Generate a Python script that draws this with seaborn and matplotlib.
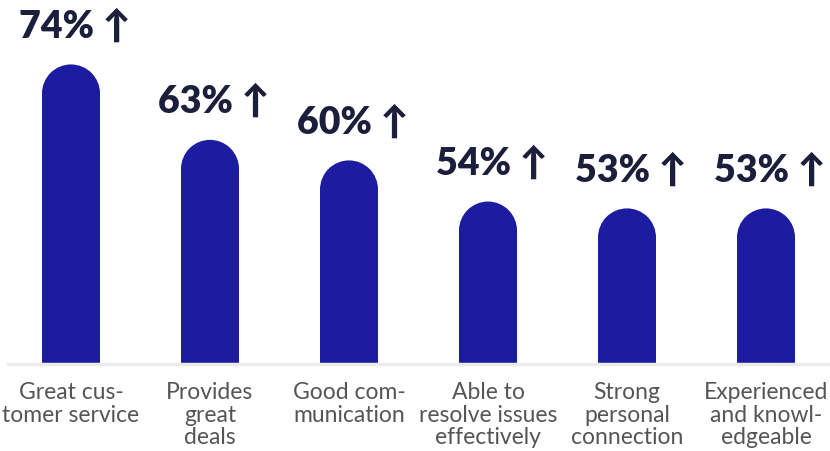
import matplotlib
matplotlib.use("Agg")
import matplotlib.pyplot as plt
from matplotlib.patches import Ellipse, Rectangle
import seaborn as sns
import pandas as pd

categories = [
    "Great cus-\ntomer service",
    "Provides\ngreat\ndeals",
    "Good com-\nmunication",
    "Able to\nresolve issues\neffectively",
    "Strong\npersonal\nconnection",
    "Experienced\nand knowl-\nedgeable",
]
values = [74, 63, 60, 54, 53, 53]

df = pd.DataFrame({"category": categories, "value": values})

sns.set_theme(style="white")
plt.rcParams["font.family"] = ["Lato", "DejaVu Sans"]

bar_color = "#1c1ca0"
text_color = "#1b1f3b"

fig = plt.figure(figsize=(8.3, 4.51), dpi=100)
# axes placed in pixels: bar spacing 139px, baseline at y=364
ax = fig.add_axes([1.5 / 830, (451 - 364) / 451, 834 / 830, 364 / 451])

bw = 58 / 139
sns.barplot(data=df, x="category", y="value", color=bar_color, width=bw,
            saturation=1, ax=ax)

y0, y1 = 30.3, 83.4
ax.set_xlim(-0.5, 5.5)
ax.set_ylim(y0, y1)

# pixel -> data conversions for rounded caps
px_per_y = 364 / (y1 - y0)
r_data = 29 / px_per_y

for p in list(ax.patches):
    x, w, h = p.get_x(), p.get_width(), p.get_height()
    p.remove()
    ax.add_patch(Rectangle((x, 0), w, h - r_data, color=bar_color, lw=0))
    ax.add_patch(Ellipse((x + w / 2, h - r_data), w, 2 * r_data,
                         color=bar_color, lw=0))

for i, v in enumerate(values):
    ax.text(i + 0.03, v + 21 / px_per_y, f"{v}% \u2191", ha="center",
            va="bottom", fontsize=27, fontweight="heavy", color=text_color)

ax.axhline(y0, xmin=6 / 834, xmax=1, color="#ebebeb", lw=2.5, clip_on=False)

sns.despine(ax=ax, left=True, bottom=True)
ax.set_yticks([])
ax.set_xlabel("")
ax.set_ylabel("")
ax.tick_params(axis="x", length=0, pad=13, labelsize=16.5, labelcolor="#555555")
for lbl in ax.get_xticklabels():
    lbl.set_linespacing(1.1)

fig.savefig("out.png", dpi=100)
